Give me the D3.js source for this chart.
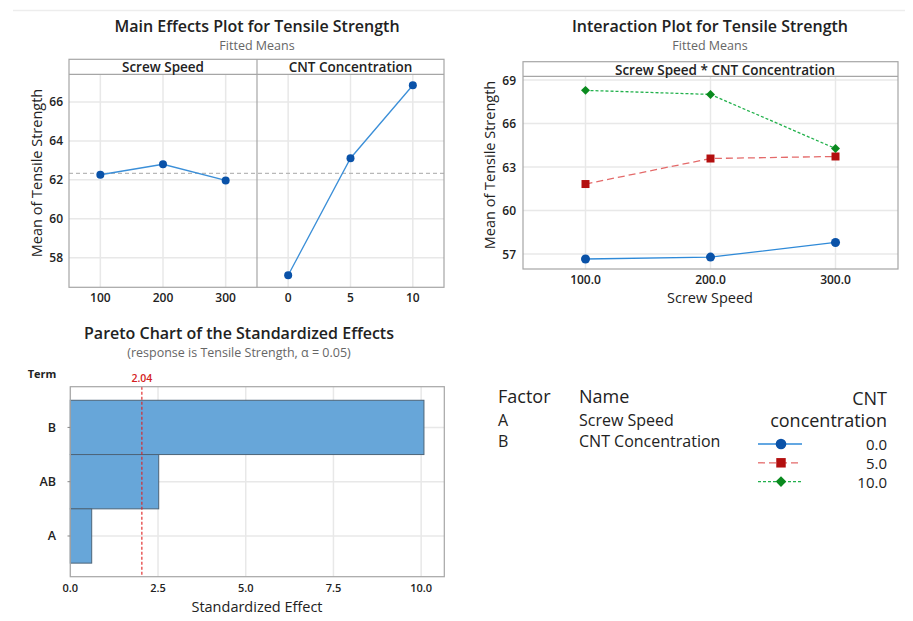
<!DOCTYPE html>
<html>
<head>
<meta charset="utf-8">
<script src="https://cdn.jsdelivr.net/npm/d3@7"></script>
<style>
  body { margin: 0; background: #fff; }
  svg { display: block; font-family: "Open Sans", "Noto Sans", sans-serif; }
  .title { font-size: 16px; font-weight: 600; fill: #222; text-anchor: middle; }
  .subtitle { font-size: 12.5px; fill: #666; text-anchor: middle; }
  .strip { font-size: 13.5px; font-weight: 600; fill: #222; text-anchor: middle; }
  .tick-label { font-size: 12px; font-weight: 600; fill: #222; }
  .axis-title { font-size: 14.5px; font-weight: 500; fill: #222; text-anchor: middle; }
  .grid { stroke: #e8e8e8; stroke-width: 1.5; }
  .frame { fill: none; stroke: #a6a6a6; stroke-width: 1.2; }
  .legend { font-size: 16px; fill: #222; }
</style>
</head>
<body>
<svg width="913" height="621"></svg>
<script>
// ---- data ----
const screwSpeeds = [100, 200, 300];
const cntLevels = [0, 5, 10];
const screwMeans = [62.26, 62.8, 61.97];
const cntMeans = [57.1, 63.11, 66.86];
const grandMean = 62.33;
const mainTicks = [58, 60, 62, 64, 66];

// interaction: mean per screw speed, one array per CNT level
const interCnt0 = [56.66, 56.79, 57.8];
const interCnt5 = [61.83, 63.59, 63.73];
const interCnt10 = [68.29, 68.01, 64.28];
const interTicks = [57, 60, 63, 66, 69];
const interTickLabels = ["100.0", "200.0", "300.0"];

const paretoTerms = ["B", "AB", "A"];
const paretoEffects = [10.08, 2.52, 0.61];
const criticalValue = 2.04;
const paretoTicks = [0, 2.5, 5, 7.5, 10];

const factorCodes = ["A", "B"];
const factorNames = ["Screw Speed", "CNT Concentration"];
const cntLegendLabels = ["0.0", "5.0", "10.0"];

const svg = d3.select("svg");

// faint rule across the top
svg.append("line").attr("x1", 13).attr("x2", 905).attr("y1", 10.5).attr("y2", 10.5)
  .attr("stroke", "#ededed").attr("stroke-width", 1.5);

// =========== MAIN EFFECTS PLOT ===========
const mainY = d3.scaleLinear().domain([56.48, 67.42]).range([287.3, 74.3]);
const speedX = d3.scaleLinear().domain([50, 350]).range([69, 257]);
const cntX = d3.scaleLinear().domain([-2.5, 12.5]).range([257, 444]);

svg.append("text").attr("class", "title").attr("x", 257).attr("y", 32)
  .text("Main Effects Plot for Tensile Strength");
svg.append("text").attr("class", "subtitle").attr("x", 257).attr("y", 50)
  .text("Fitted Means");

const mainG = svg.append("g");
// horizontal grid
mainG.selectAll("line.hgrid").data(mainTicks).enter().append("line")
  .attr("class", "grid")
  .attr("x1", 69).attr("x2", 444)
  .attr("y1", (d) => { return mainY(d); })
  .attr("y2", (d) => { return mainY(d); });
// vertical grid in each panel
mainG.selectAll("line.vs").data(screwSpeeds).enter().append("line")
  .attr("class", "grid")
  .attr("x1", (d) => { return speedX(d); })
  .attr("x2", (d) => { return speedX(d); })
  .attr("y1", 74.3).attr("y2", 287.3);
mainG.selectAll("line.vc").data(cntLevels).enter().append("line")
  .attr("class", "grid")
  .attr("x1", (d) => { return cntX(d); })
  .attr("x2", (d) => { return cntX(d); })
  .attr("y1", 74.3).attr("y2", 287.3);

// grand mean reference
mainG.append("line")
  .attr("x1", 69).attr("x2", 444)
  .attr("y1", mainY(grandMean)).attr("y2", mainY(grandMean))
  .attr("stroke", "#b8b8b8").attr("stroke-width", 1.2).attr("stroke-dasharray", "4,3");

// frame + strips
mainG.append("rect").attr("class", "frame").attr("x", 69).attr("y", 59.3).attr("width", 375).attr("height", 228);
mainG.append("line").attr("class", "frame").attr("x1", 69).attr("x2", 444).attr("y1", 74.3).attr("y2", 74.3);
mainG.append("line").attr("class", "frame").attr("x1", 257).attr("x2", 257).attr("y1", 59.3).attr("y2", 287.3);
mainG.append("text").attr("class", "strip").attr("x", 163).attr("y", 71.5).text("Screw Speed");
mainG.append("text").attr("class", "strip").attr("x", 350.5).attr("y", 71.5).text("CNT Concentration");

// effect lines
const speedLine = d3.line()
  .x((d, i) => { return speedX(screwSpeeds[i]); })
  .y((d) => { return mainY(d); });
const cntLine = d3.line()
  .x((d, i) => { return cntX(cntLevels[i]); })
  .y((d) => { return mainY(d); });
mainG.append("path").datum(screwMeans).attr("d", speedLine)
  .attr("fill", "none").attr("stroke", "#3b8fd8").attr("stroke-width", 1.3);
mainG.append("path").datum(cntMeans).attr("d", cntLine)
  .attr("fill", "none").attr("stroke", "#3b8fd8").attr("stroke-width", 1.3);
mainG.selectAll("circle.s").data(screwMeans).enter().append("circle")
  .attr("cx", (d, i) => { return speedX(screwSpeeds[i]); })
  .attr("cy", (d) => { return mainY(d); })
  .attr("r", 4).attr("fill", "#0a52a8");
mainG.selectAll("circle.c").data(cntMeans).enter().append("circle")
  .attr("cx", (d, i) => { return cntX(cntLevels[i]); })
  .attr("cy", (d) => { return mainY(d); })
  .attr("r", 4).attr("fill", "#0a52a8");

// axes labels
mainG.selectAll("text.yt").data(mainTicks).enter().append("text")
  .attr("class", "tick-label").attr("x", 63).attr("y", (d) => { return mainY(d) + 4.5; })
  .attr("text-anchor", "end").text((d) => { return d; });
mainG.selectAll("text.xs").data(screwSpeeds).enter().append("text")
  .attr("class", "tick-label").attr("x", (d) => { return speedX(d); }).attr("y", 302)
  .attr("text-anchor", "middle").text((d) => { return d; });
mainG.selectAll("text.xc").data(cntLevels).enter().append("text")
  .attr("class", "tick-label").attr("x", (d) => { return cntX(d); }).attr("y", 302)
  .attr("text-anchor", "middle").text((d) => { return d; });
mainG.append("text").attr("class", "axis-title")
  .attr("transform", "translate(42,173) rotate(-90)")
  .text("Mean of Tensile Strength");

// =========== INTERACTION PLOT ===========
const interY = d3.scaleLinear().domain([55.97, 69.26]).range([269, 76.3]);
const interX = d3.scaleLinear().domain([50, 350]).range([523, 898]);

svg.append("text").attr("class", "title").attr("x", 710).attr("y", 32)
  .text("Interaction Plot for Tensile Strength");
svg.append("text").attr("class", "subtitle").attr("x", 710).attr("y", 50)
  .text("Fitted Means");

const interG = svg.append("g");
interG.selectAll("line.hgrid").data(interTicks).enter().append("line")
  .attr("class", "grid")
  .attr("x1", 523).attr("x2", 898)
  .attr("y1", (d) => { return interY(d); })
  .attr("y2", (d) => { return interY(d); });
interG.selectAll("line.vgrid").data(screwSpeeds).enter().append("line")
  .attr("class", "grid")
  .attr("x1", (d) => { return interX(d); })
  .attr("x2", (d) => { return interX(d); })
  .attr("y1", 76.3).attr("y2", 269);
interG.append("rect").attr("class", "frame").attr("x", 523).attr("y", 61.7).attr("width", 375).attr("height", 207.3);
interG.append("line").attr("class", "frame").attr("x1", 523).attr("x2", 898).attr("y1", 76.3).attr("y2", 76.3);
interG.append("text").attr("class", "strip").attr("x", 725).attr("y", 74.5).text("Screw Speed * CNT Concentration");

// diamond = square turned 45 degrees
const interSeries = [
  { values: interCnt0, line: "#2f8ad8", marker: "#0a52a8", dash: null, shape: d3.symbolCircle, size: 64, rot: 0 },
  { values: interCnt5, line: "#e46a6a", marker: "#b30f0f", dash: "7,4", shape: d3.symbolSquare, size: 64, rot: 0 },
  { values: interCnt10, line: "#22b14c", marker: "#0a8a1e", dash: "3,2", shape: d3.symbolSquare, size: 40, rot: 45 }
];
const interLine = d3.line()
  .x((d, i) => { return interX(screwSpeeds[i]); })
  .y((d) => { return interY(d); });

interSeries.forEach((s) => {
  interG.append("path").datum(s.values).attr("d", interLine)
    .attr("fill", "none").attr("stroke", s.line).attr("stroke-width", 1.3)
    .attr("stroke-dasharray", s.dash);
  interG.selectAll(null).data(s.values).enter().append("path")
    .attr("d", d3.symbol().type(s.shape).size(s.size))
    .attr("transform", (d, i) => { return `translate(${interX(screwSpeeds[i])},${interY(d)}) rotate(${s.rot})`; })
    .attr("fill", s.marker);
});

interG.selectAll("text.yt").data(interTicks).enter().append("text")
  .attr("class", "tick-label").attr("x", 516).attr("y", (d) => { return interY(d) + 4.5; })
  .attr("text-anchor", "end").text((d) => { return d; });
interG.selectAll("text.xt").data(screwSpeeds).enter().append("text")
  .attr("class", "tick-label").attr("x", (d) => { return interX(d); }).attr("y", 284)
  .attr("text-anchor", "middle").text((d, i) => { return interTickLabels[i]; });
interG.append("text").attr("class", "axis-title").attr("x", 710).attr("y", 303).text("Screw Speed");
interG.append("text").attr("class", "axis-title")
  .attr("transform", "translate(495,165) rotate(-90)")
  .text("Mean of Tensile Strength");

// =========== PARETO CHART ===========
const paretoX = d3.scaleLinear().domain([0, 10.66]).range([70.3, 444.3]);
const paretoY = d3.scaleBand().domain(paretoTerms).range([386.7, 576.7]).paddingInner(0).paddingOuter(0.25);

svg.append("text").attr("class", "title").attr("x", 239).attr("y", 339)
  .text("Pareto Chart of the Standardized Effects");
svg.append("text").attr("class", "subtitle").attr("x", 239).attr("y", 357)
  .text("(response is Tensile Strength, \u03b1 = 0.05)");

const paretoG = svg.append("g");
paretoG.selectAll("line.vgrid").data(paretoTicks).enter().append("line")
  .attr("class", "grid")
  .attr("x1", (d) => { return paretoX(d); })
  .attr("x2", (d) => { return paretoX(d); })
  .attr("y1", 386.7).attr("y2", 576.7);
paretoG.selectAll("line.hgrid").data(paretoTerms).enter().append("line")
  .attr("class", "grid")
  .attr("x1", 70.3).attr("x2", 444.3)
  .attr("y1", (d) => { return paretoY(d) + paretoY.bandwidth() / 2; })
  .attr("y2", (d) => { return paretoY(d) + paretoY.bandwidth() / 2; });

paretoG.selectAll("rect.bar").data(paretoEffects).enter().append("rect")
  .attr("x", paretoX(0))
  .attr("y", (d, i) => { return paretoY(paretoTerms[i]); })
  .attr("width", (d) => { return paretoX(d) - paretoX(0); })
  .attr("height", paretoY.bandwidth())
  .attr("fill", "#67a6d9").attr("stroke", "#4d6478").attr("stroke-width", 1);

paretoG.append("line")
  .attr("x1", paretoX(criticalValue)).attr("x2", paretoX(criticalValue))
  .attr("y1", 386.7).attr("y2", 576.7)
  .attr("stroke", "#e02020").attr("stroke-width", 1.1).attr("stroke-dasharray", "3,2");
paretoG.append("text").attr("x", paretoX(criticalValue)).attr("y", 382)
  .attr("text-anchor", "middle").attr("font-size", 10.5).attr("font-weight", 600)
  .attr("fill", "#d42020").text(criticalValue.toFixed(2));

paretoG.append("rect").attr("class", "frame").attr("x", 70.3).attr("y", 386.7).attr("width", 374).attr("height", 190);

paretoG.selectAll("line.ytick").data(paretoTerms).enter().append("line")
  .attr("x1", 67.5).attr("x2", 70.3)
  .attr("y1", (d) => { return paretoY(d) + paretoY.bandwidth() / 2; })
  .attr("y2", (d) => { return paretoY(d) + paretoY.bandwidth() / 2; })
  .attr("stroke", "#888");
paretoG.selectAll("text.yt").data(paretoTerms).enter().append("text")
  .attr("class", "tick-label")
  .attr("x", 56).attr("y", (d) => { return paretoY(d) + paretoY.bandwidth() / 2 + 4.5; })
  .attr("text-anchor", "end").style("font-size", "12.5px").text((d) => { return d; });
paretoG.append("text").attr("x", 42).attr("y", 378).attr("text-anchor", "middle")
  .style("font-size", "11px").attr("font-weight", 700).attr("fill", "#222").text("Term");
paretoG.selectAll("text.xt").data(paretoTicks).enter().append("text")
  .attr("class", "tick-label").attr("x", (d) => { return paretoX(d); }).attr("y", 592)
  .attr("text-anchor", "middle").style("font-size", "11px").text((d) => { return d.toFixed(1); });
paretoG.append("text").attr("class", "axis-title").attr("x", 257).attr("y", 612).text("Standardized Effect");

// =========== LEGEND / FACTOR TABLE ===========
const legG = svg.append("g").attr("class", "legend");
legG.append("text").attr("x", 498).attr("y", 403).style("font-size", "18px").text("Factor");
legG.append("text").attr("x", 579).attr("y", 403).style("font-size", "18px").text("Name");
legG.selectAll("text.code").data(factorCodes).enter().append("text")
  .attr("x", 498).attr("y", (d, i) => { return 426 + i * 20.5; }).text((d) => { return d; });
legG.selectAll("text.name").data(factorNames).enter().append("text")
  .attr("x", 579).attr("y", (d, i) => { return 426 + i * 20.5; }).text((d) => { return d; });

legG.append("text").attr("x", 887).attr("y", 405).attr("text-anchor", "end").style("font-size", "18px").text("CNT");
legG.append("text").attr("x", 887).attr("y", 427).attr("text-anchor", "end").style("font-size", "18px").text("concentration");

interSeries.forEach((s, i) => {
  const ly = 444 + i * 18.8;
  legG.append("line").attr("x1", 758).attr("x2", 802).attr("y1", ly).attr("y2", ly)
    .attr("stroke", s.line).attr("stroke-width", 1.3).attr("stroke-dasharray", s.dash);
  legG.append("path").attr("d", d3.symbol().type(s.shape).size(s.size * 1.4))
    .attr("transform", `translate(781,${ly}) rotate(${s.rot})`).attr("fill", s.marker);
  legG.append("text").attr("x", 887).attr("y", ly + 6).attr("text-anchor", "end")
    .style("font-size", "15px").text(cntLegendLabels[i]);
});
</script>
</body>
</html>
